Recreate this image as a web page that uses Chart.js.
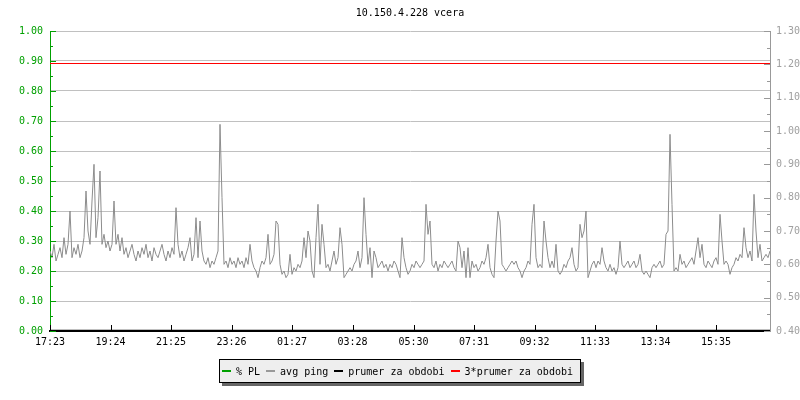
<!DOCTYPE html>
<html><head><meta charset="utf-8">
<script src="https://cdn.jsdelivr.net/npm/chart.js@4/dist/chart.umd.min.js"></script>
<style>
html,body{margin:0;padding:0;background:#fff;}
#wrap{position:relative;width:800px;height:400px;font-family:'DejaVu Sans Mono',monospace;}
#title{position:absolute;left:50px;width:720px;top:7px;line-height:12px;text-align:center;font-size:10px;color:#000;}
#legend{position:absolute;left:219px;top:359px;height:22px;border:1px solid #000;background:#eeeeee;box-shadow:3px 3px 0 #666;display:flex;align-items:center;padding:0 7px 0 2px;font-size:10px;white-space:pre;color:#000;}
.item{display:flex;align-items:center;margin-right:6px;}
.item:last-child{margin-right:0;}
.sw{width:9px;height:2px;margin-right:5px;}
</style></head>
<body><div id="wrap"><canvas id="c" width="800" height="400"></canvas><div id="title"></div><div id="legend"></div></div>
<script>
const chartTitle = '10.150.4.228 vcera';
const seriesLabels = ['% PL', 'avg ping', 'prumer za obdobi', '3*prumer za obdobi'];
const seriesColors = ['#00a000', '#999999', '#000000', '#ff0000'];
const tickLabels = ['17:23','19:24','21:25','23:26','01:27','03:28','05:30','07:31','09:32','11:33','13:34','15:35'];
const tickMinutes = [0,121,242,363,484,605,727,848,969,1090,1211,1332];
const sampleMinutes = 4;
const spanMinutes = 1440;
const plValues = [0, 0];
const prumer = 0.401;
const triplePrumer = 1.2025;
// avg ping, one value per 4 minutes from 17:23 (right axis units)
const pingValues = [
 0.64,0.62,0.66,0.61,0.63,0.65,0.62,0.68,0.63,0.66,
 0.76,0.62,0.65,0.63,0.66,0.62,0.64,0.68,0.82,0.70,
 0.66,0.79,0.90,0.68,0.74,0.88,0.66,0.69,0.65,0.67,
 0.64,0.66,0.79,
 0.66,0.69,0.64,0.68,0.63,0.65,0.62,0.64,0.66,0.63,
 0.61,0.64,0.62,0.65,0.63,0.66,0.62,0.64,0.61,0.65,
 0.63,0.62,0.64,0.66,0.63,0.61,0.64,0.62,0.65,0.63,
 0.77,0.66,0.62,0.64,0.61,0.63,0.65,0.68,0.61,0.63,
 0.74,0.62,0.73,0.64,0.61,0.60,0.62,0.59,0.61,0.60,
 0.62,0.64,
 1.02,0.80,0.60,0.61,0.59,0.62,0.60,0.61,0.59,0.62,
 0.60,0.61,0.59,0.62,0.60,0.66,0.61,0.59,0.58,0.56,
 0.59,0.61,0.60,0.62,0.69,0.60,0.61,0.63,0.73,0.72,
 0.60,0.57,0.58,0.56,0.57,0.63,
 0.57,0.59,0.58,0.60,0.59,0.61,0.68,0.62,0.70,0.67,
 0.58,0.56,0.68,0.78,0.60,0.72,0.66,0.59,0.60,0.58,
 0.61,0.64,0.60,0.62,0.71,0.66,0.56,0.57,0.58,0.59,
 0.58,0.60,0.61,0.64,0.59,0.62,0.80,0.69,0.60,0.65,
 0.56,0.64,0.62,0.59,0.60,0.61,0.59,0.60,0.58,0.60,
 0.59,0.61,0.60,0.58,0.56,0.68,0.62,0.59,0.57,0.58,
 0.60,0.59,0.61,0.60,0.59,0.60,0.61,0.78,0.69,0.73,
 0.60,0.59,0.61,0.58,0.60,0.59,0.61,0.60,0.59,0.60,
 0.61,0.59,0.58,0.67,0.65,0.59,0.64,0.56,0.65,0.56,
 0.61,0.59,0.60,0.58,0.59,0.61,0.60,0.62,0.66,0.59,
 0.57,0.56,0.67,0.76,0.73,0.60,0.59,0.58,0.59,0.60,
 0.61,0.60,0.61,0.59,0.58,0.56,0.58,0.59,0.61,0.60,
 0.72,0.78,0.62,0.59,0.60,0.59,0.73,0.67,0.62,0.59,
 0.61,0.59,0.66,0.58,0.57,0.58,0.60,0.59,0.61,0.62,
 0.65,0.60,0.58,0.59,0.72,0.68,0.70,0.76,0.56,0.58,
 0.60,0.61,0.59,0.61,0.60,0.65,0.61,0.59,
 0.58,0.60,0.58,0.59,0.57,0.59,0.67,0.60,0.59,0.60,
 0.61,0.59,0.60,0.61,0.59,0.60,0.63,0.58,0.57,0.58,
 0.57,0.56,0.59,0.60,0.59,0.60,0.61,0.59,0.60,0.69,
 0.70,0.99,0.78,0.58,0.59,0.58,0.63,0.60,0.61,0.59,
 0.60,0.61,0.62,0.60,0.64,0.68,0.62,0.66,0.60,0.59,
 0.61,0.60,0.59,0.61,0.62,0.60,0.75,0.67,0.60,0.61,
 0.60,0.57,0.59,0.60,0.62,0.61,0.63,0.62,0.71,0.65,
 0.62,0.64,0.61,0.81,0.70,0.62,0.66,0.61,0.62,0.63,
 0.62,0.64
];

document.getElementById('title').textContent = chartTitle;
const leg = document.getElementById('legend');
seriesLabels.forEach((l, i) => {
  const it = document.createElement('div'); it.className = 'item';
  const sw = document.createElement('div'); sw.className = 'sw'; sw.style.background = seriesColors[i];
  const tx = document.createElement('span'); tx.textContent = l;
  it.appendChild(sw); it.appendChild(tx); leg.appendChild(it);
});

const pingPoints = pingValues.map((v, i) => ({x: i * sampleMinutes, y: v}));
const plPoints = plValues.map((v, i) => ({x: i * spanMinutes, y: v}));
const flat = v => [{x: 0, y: v}, {x: spanMinutes, y: v}];
const font = {family: "'DejaVu Sans Mono', monospace", size: 10};

const tickMarks = {
  id: 'tickMarks',
  afterDatasetsDraw(ch) {
    const {ctx, chartArea: a, scales} = ch;
    ctx.save(); ctx.lineWidth = 1;
    ctx.strokeStyle = seriesColors[0];
    for (let k = 0; k <= 20; k++) {
      const y = Math.round(scales.yL.getPixelForValue(k / 20)) + 0.5;
      const len = k % 2 === 0 ? 6 : 3;
      ctx.beginPath(); ctx.moveTo(a.left, y); ctx.lineTo(a.left + len, y); ctx.stroke();
    }
    ctx.strokeStyle = '#999999';
    for (let k = 8; k <= 26; k++) {
      const y = Math.round(scales.yR.getPixelForValue(k / 20)) + 0.5;
      const len = k % 2 === 0 ? 6 : 3;
      ctx.beginPath(); ctx.moveTo(a.right, y); ctx.lineTo(a.right - len, y); ctx.stroke();
    }
    ctx.strokeStyle = '#000';
    scales.x.ticks.forEach(t => {
      const x = Math.round(scales.x.getPixelForValue(t.value)) + 0.5;
      ctx.beginPath(); ctx.moveTo(x, a.bottom); ctx.lineTo(x, a.bottom - 6); ctx.stroke();
    });
    ctx.restore();
  }
};

new Chart(document.getElementById('c'), {
  type: 'line',
  data: {datasets: [
    {label: seriesLabels[0], data: plPoints, yAxisID: 'yL', borderColor: seriesColors[0], borderWidth: 1, pointRadius: 0, order: 3},
    {label: seriesLabels[1], data: pingPoints, yAxisID: 'yR', borderColor: '#8c8c8c', borderWidth: 1, pointRadius: 0, tension: 0, order: 2},
    {label: seriesLabels[2], data: flat(prumer), yAxisID: 'yR', borderColor: seriesColors[2], borderWidth: 2, pointRadius: 0, order: 1},
    {label: seriesLabels[3], data: flat(triplePrumer), yAxisID: 'yR', borderColor: seriesColors[3], borderWidth: 1, pointRadius: 0, order: 0}
  ]},
  options: {
    responsive: false, animation: false,
    layout: {padding: {top: 31, left: 0, right: 0, bottom: 0}},
    plugins: {legend: {display: false}, title: {display: false}, tooltip: {enabled: false}},
    scales: {
      x: {type: 'linear', min: 0, max: spanMinutes,
        afterBuildTicks(s) { s.ticks = tickMinutes.map(v => ({value: v})); },
        ticks: {callback: (v, i) => tickLabels[i], color: '#000', font, padding: 5, maxRotation: 0, autoSkip: false},
        grid: {display: false, drawTicks: false}, border: {color: '#000', width: 2},
        afterFit(s) { s.height = 69; }},
      yL: {position: 'left', min: 0, max: 1,
        ticks: {stepSize: 0.1, callback: v => v.toFixed(2), color: seriesColors[0], padding: 7, font},
        grid: {color: '#c0c0c0', drawTicks: false}, border: {color: seriesColors[0]},
        afterFit(s) { s.width = 50; }},
      yR: {position: 'right', min: 0.4, max: 1.3,
        ticks: {stepSize: 0.1, callback: v => v.toFixed(2), color: '#a0a0a0', padding: 6, font},
        grid: {drawOnChartArea: false, drawTicks: false}, border: {color: '#999999'},
        afterFit(s) { s.width = 30; }}
    }
  },
  plugins: [tickMarks]
});
</script>
</body></html>
